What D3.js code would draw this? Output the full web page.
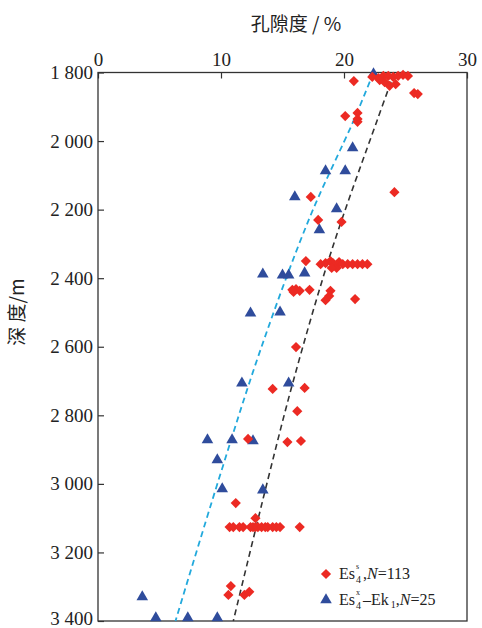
<!DOCTYPE html>
<html>
<head>
<meta charset="utf-8">
<script src="https://cdn.jsdelivr.net/npm/d3@7"></script>
<style>
  html, body { margin: 0; padding: 0; background: #fff; }
  svg { display: block; }
</style>
</head>
<body>
<svg id="chart" width="482" height="628"></svg>
<script>
// Porosity vs burial depth, two sample groups with their compaction trends.
const porosityTicks = [0, 10, 20, 30];
const depthTicks = [1800, 2000, 2200, 2400, 2600, 2800, 3000, 3200, 3400];

// Es4 upper sub-member samples: [porosity %, depth m]
const esUpperSamples = [
  [20.8, 1825], [22.3, 1813], [22.8, 1816], [23.2, 1810], [23.6, 1810], [24.0, 1813],
  [24.4, 1810], [24.8, 1807], [25.2, 1810], [23.3, 1828], [23.7, 1839], [24.2, 1834],
  [22.9, 1822], [25.7, 1860], [26.0, 1863],
  [20.1, 1927], [21.1, 1918], [21.1, 1936], [21.1, 1944],
  [24.1, 2149], [17.3, 2163], [17.9, 2230], [19.8, 2236],
  [16.9, 2350], [18.1, 2359], [18.5, 2356], [18.9, 2350], [19.1, 2356], [19.4, 2370],
  [19.0, 2370], [19.6, 2353], [19.9, 2359], [20.3, 2359], [20.7, 2359], [21.1, 2359],
  [21.5, 2359], [21.9, 2359],
  [15.8, 2434], [16.1, 2432], [16.4, 2437], [15.9, 2440], [17.2, 2434], [18.9, 2437],
  [18.8, 2452], [18.5, 2464], [20.9, 2461],
  [16.1, 2601], [14.2, 2723], [16.8, 2720], [16.2, 2788],
  [12.2, 2869], [15.4, 2878], [16.5, 2875],
  [11.2, 3056], [12.8, 3100],
  [10.7, 3126], [11.0, 3126], [11.5, 3126], [11.8, 3126], [12.4, 3126], [12.6, 3126],
  [12.8, 3126], [13.0, 3126], [13.3, 3126], [13.6, 3126], [13.8, 3126], [14.2, 3126],
  [14.5, 3126], [14.8, 3126], [16.4, 3126],
  [10.8, 3298], [10.6, 3324], [11.9, 3324], [12.3, 3315]
];

// Es4 lower sub-member to Ek1 samples: [porosity %, depth m]
const esLowerEkSamples = [
  [22.4, 1804], [20.7, 2020], [18.5, 2087], [20.1, 2087], [16.0, 2163], [19.4, 2198],
  [18.0, 2259], [13.4, 2388], [15.0, 2391], [15.5, 2391], [16.8, 2385], [12.4, 2502],
  [14.8, 2499], [11.7, 2706], [15.5, 2706], [8.9, 2872], [10.9, 2872], [12.6, 2875],
  [9.7, 2930], [10.1, 3015], [13.4, 3018], [3.6, 3330], [4.7, 3391], [7.3, 3391], [9.7, 3391]
];

// Trend curves: [porosity %, depth m]
const esUpperTrend = [[24.1, 1800], [22.7, 1939], [19.0, 2318], [15.9, 2697], [13.8, 2989], [11.0, 3400]];
const esLowerEkTrend = [[22.4, 1800], [20.8, 1939], [17.2, 2224], [13.2, 2610], [9.8, 2989], [6.3, 3400]];

const legendLabels = [
  { base: "Es", sup: "s", sub: "4", rest: "", n: "113" },
  { base: "Es", sup: "x", sub: "4", rest: "\u2013Ek", sub2: "1", n: "25" }
];

const svg = d3.select("#chart");
const serif = "'Liberation Serif', 'Times New Roman', serif";
const cjk = "'Noto Sans CJK SC', sans-serif";

const x = d3.scaleLinear().domain([0, 30]).range([98, 467]);
const y = d3.scaleLinear().domain([1800, 3400]).range([72.5, 621]);

const depthFmt = d => d3.format(",")(d).replace(",", " ");

function styleAxis(g) {
  g.attr("font-family", serif).attr("font-size", 19);
  g.select(".domain").remove();
  g.selectAll("text")
    .attr("font-family", serif).attr("font-size", 19).attr("fill", "#222")
    .style("font-family", serif);
  g.selectAll("line").attr("stroke", "#333").attr("stroke-width", 1.2);
}

// top axis (porosity)
svg.append("g")
  .attr("transform", `translate(0,${y(1800)})`)
  .call(d3.axisTop(x).tickValues(porosityTicks).tickSize(-6).tickPadding(7))
  .call(styleAxis);

// left axis (depth)
const leftAxis = svg.append("g")
  .attr("transform", `translate(${x(0)},0)`)
  .call(d3.axisLeft(y).tickValues(depthTicks).tickFormat(depthFmt).tickSize(-6).tickPadding(5))
  .call(styleAxis);
// keep the lowest label inside the canvas
leftAxis.selectAll(".tick text").filter(d => d === 3400).attr("dy", "0.2em");

// frame
svg.append("rect")
  .attr("x", x(0)).attr("y", y(1800))
  .attr("width", x(30) - x(0)).attr("height", y(3400) - y(1800))
  .attr("fill", "none").attr("stroke", "#333").attr("stroke-width", 1.3);

// axis titles
svg.append("text")
  .attr("x", 296).attr("y", 31)
  .attr("text-anchor", "middle")
  .attr("font-family", cjk).attr("font-size", 19).attr("fill", "#222")
  .text("孔隙度 / %");

svg.append("text")
  .attr("transform", "translate(24,312) rotate(-90)")
  .attr("text-anchor", "middle")
  .attr("font-family", cjk).attr("font-size", 19).attr("fill", "#222")
  .text("深 度/m");

// trend lines
const trendLine = d3.line()
  .x(d => x(d[0])).y(d => y(d[1]))
  .curve(d3.curveCatmullRom);

svg.append("path")
  .datum(esUpperTrend)
  .attr("d", trendLine)
  .attr("fill", "none").attr("stroke", "#333").attr("stroke-width", 1.6)
  .attr("stroke-dasharray", "6,4");

svg.append("path")
  .datum(esLowerEkTrend)
  .attr("d", trendLine)
  .attr("fill", "none").attr("stroke", "#22a9dc").attr("stroke-width", 1.8)
  .attr("stroke-dasharray", "6,4");

// markers
const redColor = "#ec2a23";
const blueColor = "#2f4c9c";
const diamondPath = d3.symbol().type(d3.symbolSquare).size(52)();
const trianglePath = d3.symbol().type(d3.symbolTriangle).size(58)();

svg.append("g").selectAll("path")
  .data(esLowerEkSamples)
  .join("path")
  .attr("d", trianglePath)
  .attr("transform", d => `translate(${x(d[0])},${y(d[1])})`)
  .attr("fill", blueColor);

svg.append("g").selectAll("path")
  .data(esUpperSamples)
  .join("path")
  .attr("d", diamondPath)
  .attr("transform", d => `translate(${x(d[0])},${y(d[1])}) rotate(45)`)
  .attr("fill", redColor);

// legend: one text element per entry, with a stacked super/subscript after "Es"
const legend = svg.append("g");
legendLabels.forEach((lab, i) => {
  const ly = 574 + i * 26;
  legend.append("path")
    .attr("d", i === 0 ? diamondPath : trianglePath)
    .attr("fill", i === 0 ? redColor : blueColor)
    .attr("transform", i === 0 ? `translate(326,${ly}) rotate(45)` : `translate(326,${ly})`);

  const t = legend.append("text")
    .attr("x", 339).attr("y", ly + 5)
    .attr("font-family", serif).attr("font-size", 16).attr("fill", "#222");
  t.append("tspan").text(lab.base);
  const sup = t.append("tspan").attr("font-size", 8).attr("dx", 1).attr("dy", -10).text(lab.sup);
  const supW = sup.node().getComputedTextLength();
  const sub = t.append("tspan").attr("font-size", 10).attr("dx", -supW).attr("dy", 14).text(lab.sub);
  const subW = sub.node().getComputedTextLength();
  const pad = Math.max(supW - subW, 0) + 2;
  if (lab.rest) {
    t.append("tspan").attr("dx", pad).attr("dy", -4).text(lab.rest);
    t.append("tspan").attr("font-size", 10).attr("dx", 2).attr("dy", 3).text(lab.sub2);
    t.append("tspan").attr("dy", -3).text(",");
  } else {
    t.append("tspan").attr("dx", pad).attr("dy", -4).text(",");
  }
  t.append("tspan").attr("font-style", "italic").text("N");
  t.append("tspan").text("=" + lab.n);
});
</script>
</body>
</html>
